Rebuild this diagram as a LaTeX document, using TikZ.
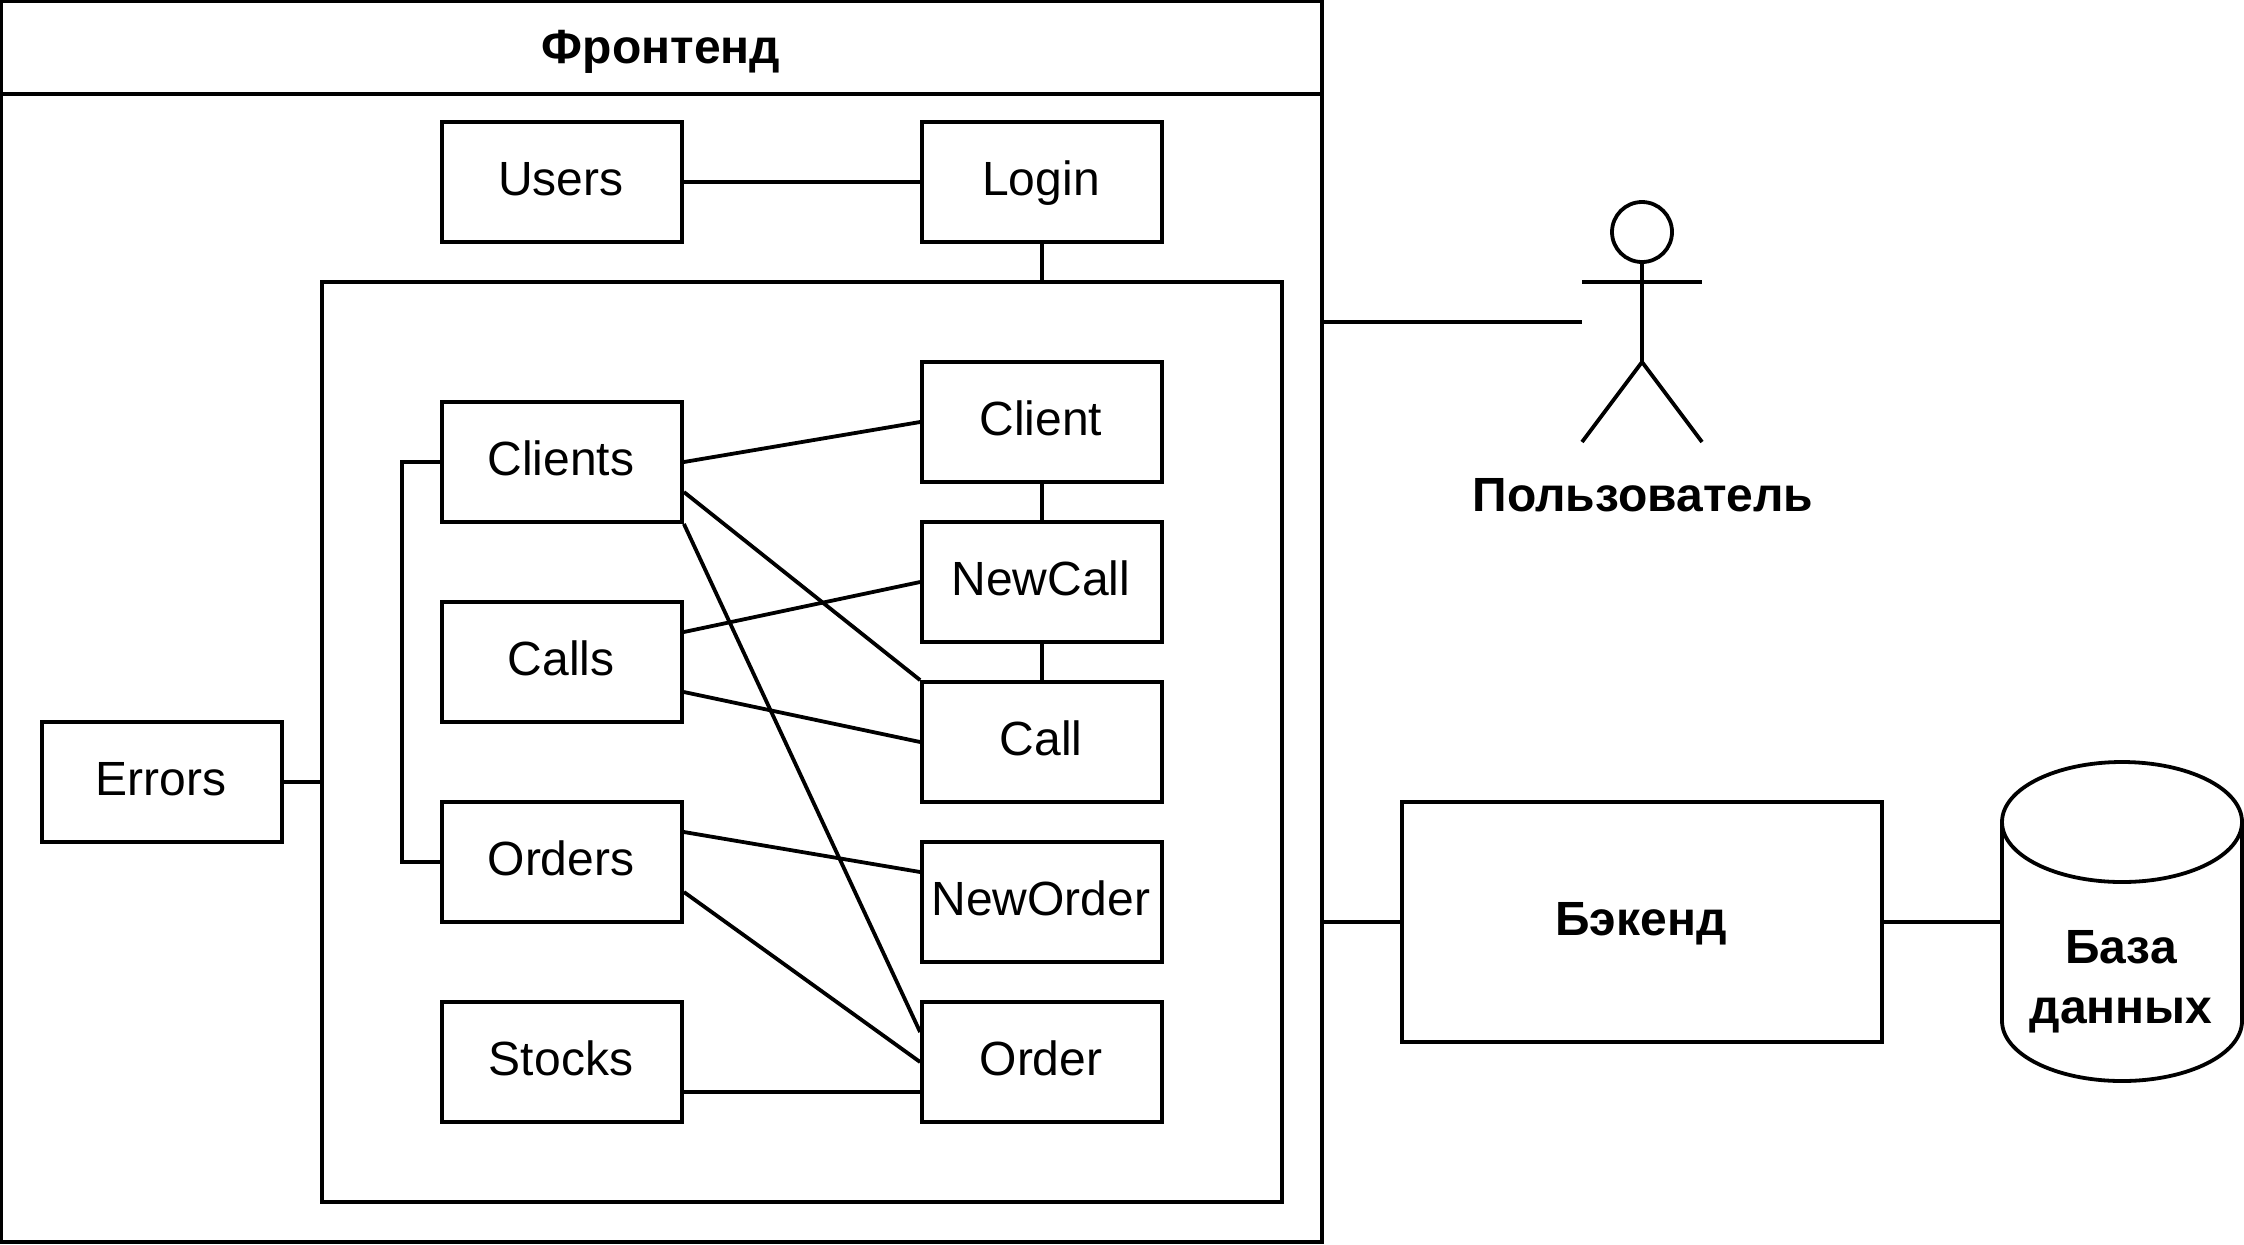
\documentclass[tikz,border=0pt]{standalone}
\usepackage{fontspec}
\setmainfont{Liberation Sans}
\tikzset{
  x=0.5pt,y=-0.5pt,
  ln/.style={draw=black,line width=1.9pt},
  box/.style={ln,fill=white,minimum width=120pt,minimum height=60pt,inner sep=0pt,text height=18pt,text depth=5pt,execute at begin node=\kern-1pt,font=\fontsize{24}{28}\selectfont},
  bold/.style={font=\fontsize{24}{30}\selectfont\bfseries,inner sep=0pt,align=center},
}
\begin{document}
\begin{tikzpicture}
\useasboundingbox (0,0) rectangle (2244,1244);
% frontend
\draw[ln] (1,1) rectangle (1322,1242);
\draw[ln] (1,94) -- (1322,94);
\node[bold] (title) at (661,52) {Фронтенд};
\begin{scope}[xshift=0.5pt,yshift=-0.5pt]
\node[ln,minimum width=480pt,minimum height=460pt,inner sep=0pt] (inner) at (801,741) {};
% boxes
\node[box] (users) at (561,181) {Users};
\node[box] (login) at (1041,181) {Login};
\node[box] (clients) at (561,461) {Clients};
\node[box] (calls) at (561,661) {Calls};
\node[box] (orders) at (561,861) {Orders};
\node[box] (stocks) at (561,1061) {Stocks};
\node[box] (client) at (1041,421) {Client};
\node[box] (newcall) at (1041,581) {NewCall};
\node[box] (call) at (1041,741) {Call};
\node[box] (neworder) at (1041,901) {NewOrder};
\node[box] (order) at (1041,1061) {Order};
\node[box] (errors) at (161,781) {Errors};
\node[ln,minimum width=240pt,minimum height=120pt,inner sep=0pt,bold,text height=18.5pt,text depth=5pt] (backend) at (1641,921) {\hspace*{-1pt}Бэкенд};
% connectors
\draw[ln] (users) -- (login);
\draw[ln] (login.south) -- (login.south |- inner.north);
\draw[ln] (clients.east) -- (client.west);
\draw[ln] (client) -- (newcall);
\draw[ln] (newcall) -- (call);
\draw[ln] (calls.east |- 0,631) -- (newcall.west);
\draw[ln] (calls.east |- 0,691) -- (call.west);
\draw[ln] (clients.east |- 0,491) -- (call.north west);
\draw[ln] (clients.south east) -- (order.west |- 0,1031);
\draw[ln] (orders.east |- 0,831) -- (neworder.west |- 0,871);
\draw[ln] (orders.east |- 0,891) -- (order.west);
\draw[ln] (stocks.east |- 0,1091) -- (order.west |- 0,1091);
\draw[ln] (clients.west) -- (401,461) -- (401,861) -- (orders.west);
\draw[ln] (errors.east) -- (inner.west |- errors.east);
% actor
\coordinate (armL) at (1581,281);
\coordinate (armR) at (1701,281);
\coordinate (hip) at (1641,361);
\coordinate (footL) at (1581,441);
\coordinate (footR) at (1701,441);
\node[ln,circle,minimum size=30pt,inner sep=0pt] (head) at (1641,231) {};
\draw[ln] (armL) -- (armR);
\draw[ln] (head.south) -- (hip);
\draw[ln] (footL) -- (hip) -- (footR);
\node[bold] (user) at (1642,494) {Пользователь};
\coordinate (frontR) at (1321,321);
\coordinate (actorL) at (1581,321);
\draw[ln] (frontR) -- (actorL);
\coordinate (frontB) at (1321,921);
\draw[ln] (frontB) -- (backend.west);
% database
\draw[ln] (2001,821) -- (2001,1020) arc[start angle=180,end angle=360,x radius=120,y radius=-60] -- (2241,821) arc[start angle=0,end angle=180,x radius=120,y radius=-60]  arc[start angle=180,end angle=360,x radius=120,y radius=-60];
\coordinate (dbL) at (2001,921);
\draw[ln] (backend.east) -- (dbL);
\node[bold] (dbtext) at (2120,981) {База\\данных};
\end{scope}
\end{tikzpicture}
\end{document}
